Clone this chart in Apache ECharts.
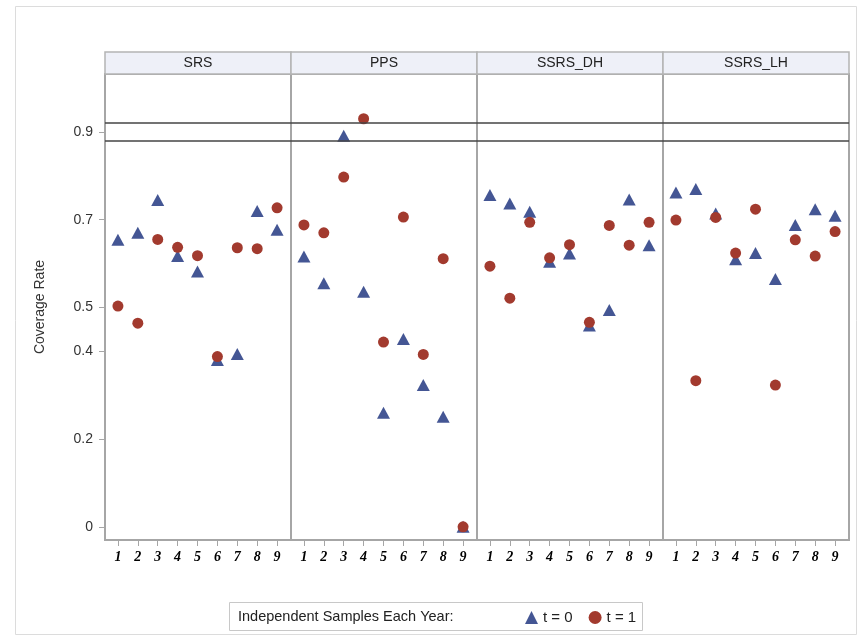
<!DOCTYPE html>
<html>
<head>
<meta charset="utf-8">
<script src="https://cdn.jsdelivr.net/npm/echarts@6/dist/echarts.min.js"></script>
<style>
  html, body { margin: 0; padding: 0; background: #ffffff; }
  #chart { width: 867px; height: 642px; }
</style>
</head>
<body>
<div id="chart"></div>
<script>
// Sampling design panels and years
const panels = ['SRS', 'PPS', 'SSRS_DH', 'SSRS_LH'];
const years = [1, 2, 3, 4, 5, 6, 7, 8, 9];

// Coverage rate, t = 0 (triangles) and t = 1 (circles), per design
const srsT0 = [0.654, 0.670, 0.745, 0.617, 0.582, 0.380, 0.394, 0.720, 0.677];
const srsT1 = [0.503, 0.464, 0.655, 0.637, 0.618, 0.388, 0.636, 0.634, 0.727];
const ppsT0 = [0.616, 0.555, 0.891, 0.536, 0.260, 0.428, 0.323, 0.251, 0.000];
const ppsT1 = [0.688, 0.670, 0.797, 0.930, 0.421, 0.706, 0.393, 0.611, 0.000];
const dhT0 = [0.756, 0.737, 0.718, 0.604, 0.623, 0.459, 0.494, 0.746, 0.642];
const dhT1 = [0.594, 0.521, 0.694, 0.613, 0.643, 0.466, 0.687, 0.642, 0.694];
const lhT0 = [0.762, 0.770, 0.714, 0.610, 0.624, 0.565, 0.688, 0.724, 0.709];
const lhT1 = [0.699, 0.333, 0.705, 0.624, 0.724, 0.323, 0.654, 0.617, 0.673];

// Y-axis tick values and reference band around nominal coverage
const yTicks = [0, 0.2, 0.4, 0.5, 0.7, 0.9];
const refLines = [0.92, 0.88];

const seriesT0 = [srsT0, ppsT0, dhT0, lhT0];
const seriesT1 = [srsT1, ppsT1, dhT1, lhT1];

const C0 = '#445694';
const C1 = '#A23A2E';
const PANEL_LEFT = 105, PANEL_W = 186, PANEL_TOP = 74, PANEL_H = 466, HEAD_H = 22;

const chart = echarts.init(document.getElementById('chart'), null, { renderer: 'canvas' });

const grids = [], xAxes = [], yAxes = [], series = [], graphics = [];

// Outer frame
graphics.push({
  type: 'rect', silent: true, z: 0,
  shape: { x: 15.5, y: 6.5, width: 841, height: 628 },
  style: { fill: 'none', stroke: '#dcdcdc', lineWidth: 1 }
});

panels.forEach((name, i) => {
  const left = PANEL_LEFT + PANEL_W * i;
  grids.push({
    left: left, top: PANEL_TOP, width: PANEL_W, height: PANEL_H,
    show: true, borderColor: '#a6a6a6', borderWidth: 2, backgroundColor: '#ffffff'
  });
  xAxes.push({
    type: 'value', gridIndex: i, min: 0.35, max: 9.7, position: 'bottom',
    splitLine: { show: false },
    axisLine: { show: false, onZero: false },
    axisTick: { show: true, inside: false, customValues: years, length: 6, lineStyle: { color: '#a6a6a6' } },
    axisLabel: {
      customValues: years, margin: 10,
      fontFamily: 'Liberation Serif', fontWeight: 'bold', fontStyle: 'italic',
      fontSize: 14, color: '#000000'
    }
  });
  yAxes.push({
    type: 'value', gridIndex: i, min: -0.03, max: 1.032, position: 'left',
    splitLine: { show: false },
    axisLine: { show: false, onZero: false },
    axisTick: { show: i === 0, inside: false, customValues: yTicks, length: 6, lineStyle: { color: '#a6a6a6' } },
    axisLabel: {
      show: i === 0, customValues: yTicks, margin: 12,
      fontFamily: 'Liberation Sans', fontSize: 14, color: '#333333',
      formatter: v => String(v)
    },
    name: i === 0 ? 'Coverage Rate' : '',
    nameLocation: 'middle', nameGap: 58, nameRotate: 90,
    nameTextStyle: { fontFamily: 'Liberation Sans', fontSize: 14, color: '#333333' }
  });
  series.push({
    name: 't = 0', type: 'scatter', xAxisIndex: i, yAxisIndex: i,
    symbol: 'triangle', symbolSize: [13, 12],
    itemStyle: { color: C0, opacity: 1 }, z: 3,
    data: years.map((y, k) => [y, seriesT0[i][k]]),
    markLine: {
      silent: true, symbol: 'none', animation: false,
      label: { show: false },
      lineStyle: { color: '#444444', width: 1.5, type: 'solid' },
      data: refLines.map(v => ({ yAxis: v }))
    }
  });
  series.push({
    name: 't = 1', type: 'scatter', xAxisIndex: i, yAxisIndex: i,
    symbol: 'circle', symbolSize: 11,
    itemStyle: { color: C1, opacity: 1 }, z: 4,
    data: years.map((y, k) => [y, seriesT1[i][k]])
  });
  // Panel header strip
  graphics.push({
    type: 'rect', silent: true, z: 5,
    shape: { x: left, y: PANEL_TOP - HEAD_H, width: PANEL_W, height: HEAD_H },
    style: { fill: '#eef0f8', stroke: '#b4b4b4', lineWidth: 1.5 }
  });
  graphics.push({
    type: 'text', silent: true, z: 6,
    x: left + PANEL_W / 2, y: PANEL_TOP - HEAD_H / 2,
    style: {
      text: name, fill: '#222222', fontFamily: 'Liberation Sans', fontSize: 14,
      align: 'center', verticalAlign: 'middle'
    }
  });
});

// Legend frame and caption
graphics.push({
  type: 'rect', silent: true, z: 1,
  shape: { x: 229.5, y: 602.5, width: 413, height: 28 },
  style: { fill: '#ffffff', stroke: '#c8c8c8', lineWidth: 1 }
});
graphics.push({
  type: 'text', silent: true, z: 2,
  x: 238, y: 617,
  style: {
    text: 'Independent Samples Each Year:', fill: '#222222',
    fontFamily: 'Liberation Sans', fontSize: 14.5, verticalAlign: 'middle'
  }
});

chart.setOption({
  animation: false,
  backgroundColor: '#ffffff',
  grid: grids,
  xAxis: xAxes,
  yAxis: yAxes,
  series: series,
  graphic: graphics,
  legend: {
    data: [
      { name: 't = 0', icon: 'triangle' },
      { name: 't = 1', icon: 'circle' }
    ],
    left: 520, top: 608, padding: [2, 5, 2, 5],
    itemWidth: 13, itemHeight: 13, itemGap: 16,
    textStyle: { fontFamily: 'Liberation Sans', fontSize: 15, color: '#222222' },
    selectedMode: false,
    z: 10
  }
});
</script>
</body>
</html>
